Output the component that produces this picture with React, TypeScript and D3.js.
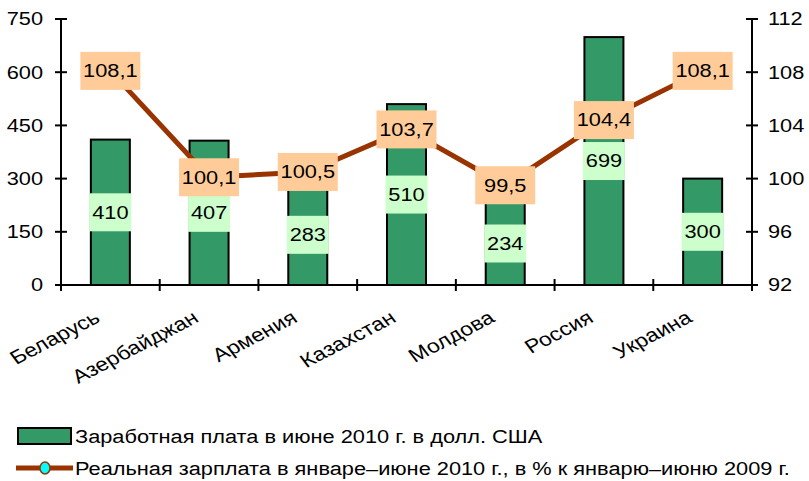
import React from "react";
import * as d3 from "d3";

const categories = ["Беларусь", "Азербайджан", "Армения", "Казахстан", "Молдова", "Россия", "Украина"];
const wages = [410, 407, 283, 510, 234, 699, 300];
const realWage = [108.1, 100.1, 100.5, 103.7, 99.5, 104.4, 108.1];
const leftTicks = [0, 150, 300, 450, 600, 750];
const rightTicks = [92, 96, 100, 104, 108, 112];
const legendLabels = [
  "Заработная плата в июне 2010 г. в долл. США",
  "Реальная зарплата в январе–июне 2010 г., в % к январю–июню 2009 г.",
];

const W = 809, H = 481;
const left = 61, right = 752, top = 19, bottom = 285;
const font = "'Liberation Sans', Arial, sans-serif";
const SX = 1.21;
const fmt = (v: number) => v.toFixed(1).replace(".", ",");

function T({ x, y, anchor = "start", rot = 0, size = 18, children }: { x: number; y: number; anchor?: string; rot?: number; size?: number; children: React.ReactNode }) {
  return (
    <text transform={`translate(${x},${y}) scale(${SX},1)${rot ? ` rotate(${rot})` : ""}`} textAnchor={anchor} fontSize={size}
      dy={rot ? undefined : "0.35em"}>
      {children}
    </text>
  );
}

export default function App() {
  const x = d3.scaleBand<string>().domain(categories).range([left, right]);
  const yL = d3.scaleLinear().domain([0, 750]).range([bottom, top]);
  const yR = d3.scaleLinear().domain([92, 112]).range([bottom, top]);
  const bw = 39;
  const cx = (c: string) => (x(c) as number) + x.bandwidth() / 2;
  const line = d3.line<number>().x((_, i) => cx(categories[i])).y((d) => yR(d));
  return (
    <svg width={W} height={H} style={{ position: "absolute", left: 0, top: 0, background: "#fff" }} fontFamily={font}>
      {categories.map((c, i) => (
        <rect key={c} x={cx(c) - bw / 2} y={yL(wages[i])} width={bw} height={bottom - yL(wages[i])}
          fill="#339966" stroke="#000" strokeWidth={2} />
      ))}
      {/* left axis */}
      <line x1={left} x2={left} y1={top} y2={bottom} stroke="#000" strokeWidth={2} />
      {leftTicks.map((t) => (
        <g key={t}>
          <line x1={left - 6} x2={left + 6} y1={yL(t)} y2={yL(t)} stroke="#000" strokeWidth={2} />
          <T x={left - 18} y={yL(t)} anchor="end">{t}</T>
        </g>
      ))}
      {/* right axis */}
      <line x1={right} x2={right} y1={top} y2={bottom} stroke="#000" strokeWidth={2} />
      {rightTicks.map((t) => (
        <g key={t}>
          <line x1={right - 6} x2={right + 6} y1={yR(t)} y2={yR(t)} stroke="#000" strokeWidth={2} />
          <T x={right + 16} y={yR(t)}>{t}</T>
        </g>
      ))}
      {/* bottom axis */}
      <line x1={left} x2={right} y1={bottom} y2={bottom} stroke="#000" strokeWidth={2} />
      {[...categories.map((c) => x(c) as number), right].map((t, i) => (
        <line key={i} x1={t} x2={t} y1={bottom - 6} y2={bottom + 6} stroke="#000" strokeWidth={2} />
      ))}
      {categories.map((c) => (
        <T key={c} x={cx(c) - 9} y={bottom + 36} anchor="end" rot={-32} size={19}>{c}</T>
      ))}
      {/* bar labels */}
      {categories.map((c, i) => {
        const yc = (yL(wages[i]) + bottom) / 2;
        return (
          <g key={c}>
            <rect x={cx(c) - 21} y={yc - 19} width={42} height={38} fill="#CCFFCC" />
            <T x={cx(c)} y={yc} anchor="middle">{wages[i]}</T>
          </g>
        );
      })}
      {/* line */}
      <path d={line(realWage) || ""} fill="none" stroke="#993300" strokeWidth={5} strokeLinejoin="round" />
      {categories.map((c, i) => (
        <g key={c}>
          <rect x={cx(c) - 30} y={yR(realWage[i]) - 19} width={60} height={38} fill="#FFCC99" />
          <T x={cx(c)} y={yR(realWage[i])} anchor="middle">{fmt(realWage[i])}</T>
        </g>
      ))}
      {/* legend */}
      <rect x={18} y={428} width={53} height={16} fill="#339966" stroke="#000" strokeWidth={2} />
      <T x={75} y={437}>{legendLabels[0]}</T>
      <line x1={16} x2={73} y1={468} y2={468} stroke="#993300" strokeWidth={5} />
      <ellipse cx={45} cy={468} rx={5} ry={6} fill="#00FFFF" stroke="#993300" strokeWidth={1.5} />
      <T x={75} y={469}>{legendLabels[1]}</T>
    </svg>
  );
}
